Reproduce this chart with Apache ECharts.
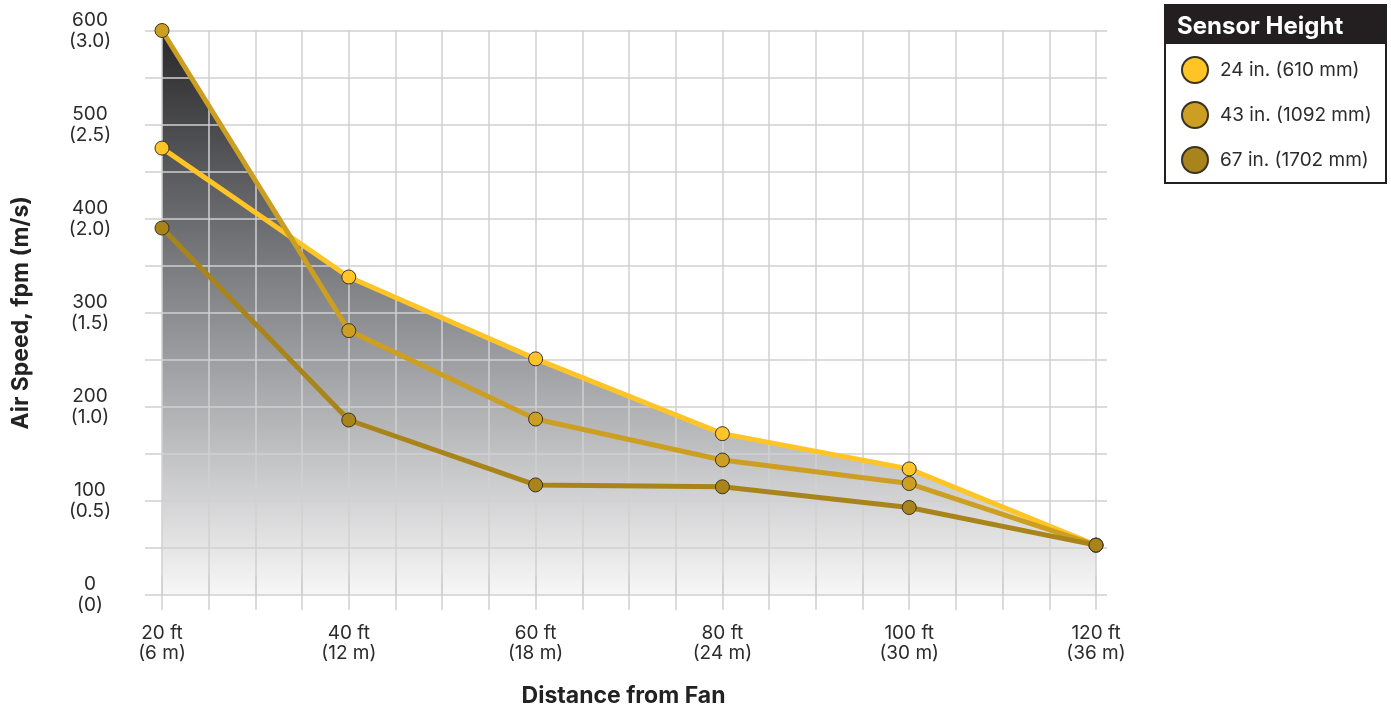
<!DOCTYPE html>
<html>
<head>
<meta charset="utf-8">
<script src="https://cdn.jsdelivr.net/npm/echarts@6/dist/echarts.min.js"></script>
<style>
  html, body { margin: 0; padding: 0; background: #fff; }
  #chart { width: 1391px; height: 709px; }
</style>
</head>
<body>
<div id="chart"></div>
<script>
// ---- data ----
const distancesFt = [20, 40, 60, 80, 100, 120];
const distanceLabels = { 20: '20 ft\n(6 m)', 40: '40 ft\n(12 m)', 60: '60 ft\n(18 m)', 80: '80 ft\n(24 m)', 100: '100 ft\n(30 m)', 120: '120 ft\n(36 m)' };
const speedLabels = { 0: '0\n(0)', 100: '100\n(0.5)', 200: '200\n(1.0)', 300: '300\n(1.5)', 400: '400\n(2.0)', 500: '500\n(2.5)', 600: '600\n(3.0)' };
const seriesNames = ['24 in. (610 mm)', '43 in. (1092 mm)', '67 in. (1702 mm)'];
const values24 = [475, 338, 251, 171.5, 134, 53];
const values43 = [600, 281, 187, 143.5, 118.5, 53];
const values67 = [390, 186, 117, 115, 93, 53];
const colors = ['#FFC425', '#CC9F22', '#A8841A'];

const pairs = vals => distancesFt.map((d, i) => [d, vals[i]]);

const FONT = 'Inter, "Open Sans", sans-serif';
const gridColor = '#d0d0d0';
const areaGradient = {
  type: 'linear', x: 0, y: 30, x2: 0, y2: 595, global: true,
  colorStops: [
    { offset: 0, color: '#28282a' },
    { offset: 0.5, color: '#8b8c90' },
    { offset: 1, color: '#f7f7f7' }
  ]
};

const lineSeries = (name, vals, color, z) => ({
  name, type: 'line', data: pairs(vals), z,
  lineStyle: { color, width: 5 },
  itemStyle: { color, borderColor: '#3a3226', borderWidth: 1 },
  symbol: 'circle', symbolSize: 14, showSymbol: true,
  emphasis: { disabled: true }
});
const areaSeries = vals => ({
  type: 'line', data: pairs(vals), z: -1, silent: true,
  symbol: 'none', lineStyle: { opacity: 0, width: 0 },
  areaStyle: { color: areaGradient, opacity: 1 },
  emphasis: { disabled: true }, tooltip: { show: false }
});

const chart = echarts.init(document.getElementById('chart'));
chart.setOption({
  animation: false,
  grid: { left: 162, right: 295, top: 30.5, bottom: 114, containLabel: false, outerBoundsMode: 'none' },
  xAxis: [{
    type: 'value', min: 20, max: 120, interval: 5,
    axisLine: { show: false },
    axisTick: { show: true, length: 15, lineStyle: { color: gridColor, width: 1.5 } },
    splitLine: { show: true, lineStyle: { color: gridColor, width: 1.5 } },
    axisLabel: {
      margin: 28, color: '#2b2b2b', fontSize: 19, fontFamily: FONT, lineHeight: 20,
      formatter: v => distanceLabels[v] || ''
    },
    name: 'Distance from Fan', nameLocation: 'middle', nameGap: 90,
    nameTextStyle: { fontSize: 23, fontWeight: 'bold', color: '#222', fontFamily: FONT, padding: [0, 11, 0, 0] }
  }, {
    type: 'value', min: 20, max: 120, interval: 5, position: 'top',
    axisLine: { show: false }, axisLabel: { show: false }, splitLine: { show: false },
    axisTick: { show: true, length: 20, lineStyle: { color: gridColor, width: 1.5 } }
  }],
  yAxis: [{
    type: 'value', min: 0, max: 600, interval: 50,
    axisLine: { show: false },
    axisTick: { show: true, length: 17, lineStyle: { color: gridColor, width: 1.5 } },
    splitLine: { show: true, lineStyle: { color: gridColor, width: 1.5 } },
    axisLabel: {
      margin: 72, align: 'center', color: '#2b2b2b', fontSize: 19, fontFamily: FONT, lineHeight: 21,
      formatter: v => speedLabels[v] || ''
    },
    name: 'Air Speed, fpm (m/s)', nameLocation: 'middle', nameGap: 129, nameRotate: 90,
    nameTextStyle: { fontSize: 23, fontWeight: 'bold', color: '#222', fontFamily: FONT }
  }, {
    type: 'value', min: 0, max: 600, interval: 50, position: 'right',
    axisLine: { show: false }, axisLabel: { show: false }, splitLine: { show: false },
    axisTick: { show: true, length: 11, lineStyle: { color: gridColor, width: 1.5 } }
  }],
  legend: {
    data: seriesNames, orient: 'vertical', left: 1181, top: 56, padding: 0,
    icon: 'circle', itemWidth: 26, itemHeight: 26, itemGap: 17,
    textStyle: { fontSize: 19, color: '#2b2b2b', fontFamily: FONT, padding: [0, 0, 0, 7] },
    selectedMode: false, z: 20
  },
  graphic: [
    { type: 'rect', left: 1164, top: 4, z: 10,
      shape: { width: 221, height: 178 },
      style: { fill: '#fff', stroke: '#231f20', lineWidth: 2 } },
    { type: 'rect', left: 1164, top: 4, z: 11,
      shape: { width: 221, height: 40 },
      style: { fill: '#231f20' } },
    { type: 'text', left: 1177, top: 15, z: 12,
      style: { text: 'Sensor Height', fill: '#fff', fontSize: 24, fontWeight: 'bold', fontFamily: FONT } }
  ],
  series: [
    areaSeries(values43),
    areaSeries(values24),
    lineSeries(seriesNames[0], values24, colors[0], 3),
    lineSeries(seriesNames[1], values43, colors[1], 4),
    lineSeries(seriesNames[2], values67, colors[2], 5)
  ]
});
</script>
</body>
</html>
